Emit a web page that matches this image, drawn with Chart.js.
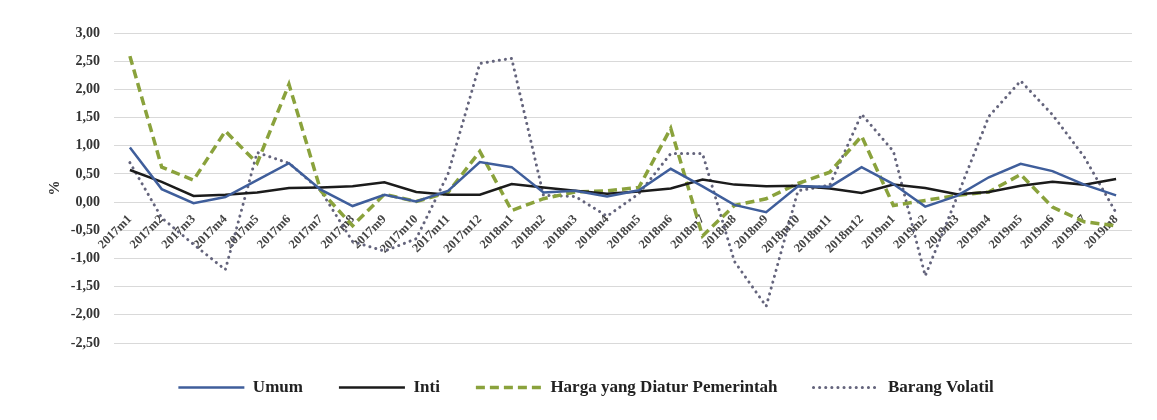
<!DOCTYPE html>
<html>
<head>
<meta charset="utf-8">
<title>Inflasi bulanan</title>
<script src="https://cdn.jsdelivr.net/npm/chart.js@4.4.1/dist/chart.umd.min.js"></script>
<style>
  html, body { margin: 0; padding: 0; background: #fff; }
  #wrap { width: 1157px; height: 420px; }
</style>
</head>
<body>
<div id="wrap"><canvas id="myChart" width="1157" height="420"></canvas></div>
<script>
// data (% mtm)
var bulan = ['2017m1','2017m2','2017m3','2017m4','2017m5','2017m6','2017m7','2017m8','2017m9','2017m10','2017m11','2017m12',
             '2018m1','2018m2','2018m3','2018m4','2018m5','2018m6','2018m7','2018m8','2018m9','2018m10','2018m11','2018m12',
             '2019m1','2019m2','2019m3','2019m4','2019m5','2019m6','2019m7','2019m8'];
var umum    = [0.97, 0.23, -0.02, 0.09, 0.39, 0.69, 0.22, -0.07, 0.13, 0.01, 0.20, 0.71,
               0.62, 0.17, 0.20, 0.10, 0.21, 0.59, 0.28, -0.05, -0.18, 0.28, 0.27, 0.62,
               0.32, -0.08, 0.11, 0.44, 0.68, 0.55, 0.31, 0.12];
var inti    = [0.57, 0.36, 0.11, 0.13, 0.17, 0.25, 0.26, 0.28, 0.35, 0.18, 0.13, 0.13,
               0.32, 0.26, 0.20, 0.15, 0.19, 0.24, 0.40, 0.31, 0.28, 0.29, 0.24, 0.16,
               0.31, 0.25, 0.14, 0.18, 0.29, 0.36, 0.31, 0.41];
var diatur  = [2.59, 0.62, 0.39, 1.26, 0.69, 2.09, 0.20, -0.42, 0.14, 0.01, 0.17, 0.90,
               -0.15, 0.06, 0.18, 0.20, 0.26, 1.31, -0.60, -0.06, 0.06, 0.33, 0.53, 1.17,
               -0.06, 0.03, 0.12, 0.18, 0.49, -0.09, -0.35, -0.42];
var volatil = [0.70, -0.28, -0.75, -1.20, 0.88, 0.69, 0.20, -0.70, -0.87, -0.65, 0.50, 2.46,
               2.55, 0.12, 0.10, -0.25, 0.15, 0.86, 0.86, -1.05, -1.85, 0.20, 0.30, 1.56,
               0.90, -1.31, 0.09, 1.52, 2.15, 1.55, 0.80, -0.19];
var namaSeri = ['Umum', 'Inti', 'Harga yang Diatur Pemerintah', 'Barang Volatil'];
var yMin = -2.5, yMax = 3, yStep = 0.5;

var serif = "'Liberation Serif', 'DejaVu Serif', serif";

window.onload = function () {
    const ctx = document.getElementById('myChart').getContext('2d');
    const myChart = new Chart(ctx, {
        type: 'line',
        data: {
            labels: bulan,
            datasets: [{
                label: namaSeri[0],
                data: umum,
                borderColor: '#3f5e9b',
                borderWidth: 2.5
            }, {
                label: namaSeri[1],
                data: inti,
                borderColor: '#1b1b1b',
                borderWidth: 2.5
            }, {
                label: namaSeri[2],
                data: diatur,
                borderColor: '#8aa23c',
                borderWidth: 3.5,
                borderDash: [9, 5]
            }, {
                label: namaSeri[3],
                data: volatil,
                borderColor: '#64647c',
                borderWidth: 3,
                borderDash: [0.1, 6],
                borderCapStyle: 'round'
            }]
        },
        options: {
            responsive: false,
            animation: false,
            elements: { point: { radius: 0 }, line: { tension: 0 } },
            // kiri 40 supaya legenda agak ke kanan seperti aslinya
            layout: { padding: { top: 33, right: 25, bottom: 14, left: 40 } },
            plugins: {
                tooltip: { enabled: false },
                legend: {
                    position: 'bottom',
                    labels: {
                        usePointStyle: true,
                        pointStyle: 'line',
                        pointStyleWidth: 66,
                        boxWidth: 66,
                        padding: 36,
                        color: '#222',
                        font: { family: serif, size: 17, weight: 'bold' },
                        // pakai gaya garis dataset (dash/dot) di legenda
                        generateLabels: function (chart) {
                            return chart.data.datasets.map(function (ds, i) {
                                return {
                                    text: ds.label,
                                    datasetIndex: i,
                                    strokeStyle: ds.borderColor,
                                    fillStyle: ds.borderColor,
                                    lineWidth: ds.borderWidth,
                                    lineDash: ds.borderDash || [],
                                    lineCap: ds.borderCapStyle || 'butt',
                                    pointStyle: 'line',
                                    fontColor: '#222',
                                    hidden: false
                                };
                            });
                        }
                    }
                }
            },
            scales: {
                x: {
                    position: { y: 0 },
                    offset: true,
                    grid: { display: false },
                    border: { display: false },
                    ticks: {
                        autoSkip: false,
                        minRotation: 45,
                        maxRotation: 45,
                        padding: 2,
                        color: '#444',
                        font: { family: serif, size: 12.5, weight: 'bold' }
                    },
                    afterFit: function (s) { s.height = 3; }
                },
                y: {
                    min: yMin,
                    max: yMax,
                    grid: { color: '#d9d9d9', drawTicks: false },
                    border: { display: false },
                    ticks: {
                        stepSize: yStep,
                        padding: 14,
                        color: '#333',
                        font: { family: serif, size: 14, weight: 'bold' },
                        callback: function (v) { return v.toFixed(2).replace('.', ','); }
                    },
                    title: {
                        display: true,
                        text: '%',
                        color: '#333',
                        padding: { top: 6, bottom: 0 },
                        font: { family: serif, size: 15, weight: 'bold' }
                    },
                    afterFit: function (s) { s.width = 74; }
                }
            }
        }
    });
};
</script>
</body>
</html>
